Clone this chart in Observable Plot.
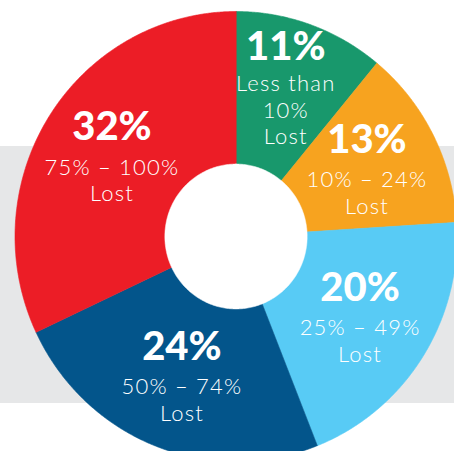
<!DOCTYPE html>
<html>
<head>
<meta charset="utf-8">
<script src="https://cdn.jsdelivr.net/npm/d3@7"></script>
<script src="https://cdn.jsdelivr.net/npm/@observablehq/plot@0.6"></script>
<style>
  html, body { margin: 0; padding: 0; background: #ffffff; }
  #chart {
    width: 454px; height: 451px; overflow: hidden;
    background: linear-gradient(to bottom, #ffffff 0px, #ffffff 146px, #e6e7e8 146px, #e6e7e8 403px, #ffffff 403px);
  }
  #chart svg { display: block; }
  #chart .small-label text { letter-spacing: 1.2px; }
</style>
</head>
<body>
<div id="chart"></div>
<script>
// ---- data ----
const categories = ["Less than 10% Lost", "10% – 24% Lost", "25% – 49% Lost", "50% – 74% Lost", "75% – 100% Lost"];
const labelLines = ["Less than\n10%\nLost", "10% – 24%\nLost", "25% – 49%\nLost", "50% – 74%\nLost", "75% – 100%\nLost"];
const values = [11, 13, 20, 24, 32];

// ---- style ----
const colors = ["#18986c", "#f7a31f", "#58cbf5", "#03558b", "#ec1d26"];
const innerRatio = 0.322;
const labelRatio = 0.665;

// ---- geometry derived from data (d3.pie: 0 at 12 o'clock, clockwise) ----
const arcs = d3.pie().sort(null).value(d => d)(values);
const slicePts = [];
arcs.forEach((a, i) => {
  const n = Math.max(4, Math.ceil((a.endAngle - a.startAngle) / 0.005));
  slicePts.push({cat: categories[i], x: 0, y: 0});
  for (let k = 0; k <= n; k++) {
    const t = a.startAngle + (a.endAngle - a.startAngle) * k / n;
    slicePts.push({cat: categories[i], x: Math.sin(t), y: Math.cos(t)});
  }
});
const holePts = d3.range(0, 361).map(k => {
  const t = k / 360 * 2 * Math.PI;
  return {x: innerRatio * Math.sin(t), y: innerRatio * Math.cos(t)};
});
const labelData = arcs.map((a, i) => {
  const m = (a.startAngle + a.endAngle) / 2;
  return {
    cat: categories[i],
    big: values[i] + "%",
    small: labelLines[i],
    lines: labelLines[i].split("\n").length,
    x: labelRatio * Math.sin(m),
    y: labelRatio * Math.cos(m)
  };
});
const two = labelData.filter(d => d.lines === 2);
const three = labelData.filter(d => d.lines === 3);

const bigStyle = {x: "x", y: "y", text: "big", fill: "white", fontSize: 40, fontWeight: 900,
  fontFamily: "Lato, 'Open Sans', sans-serif", lineAnchor: "bottom"};
const smallStyle = {x: "x", y: "y", text: "small", fill: "white", fontSize: 22, fontWeight: 300,
  fontFamily: "Lato, 'Open Sans', sans-serif", lineAnchor: "top", lineHeight: 1.2, className: "small-label"};

const chart = Plot.plot({
  width: 454,
  height: 451,
  margin: 0,
  x: {domain: [-1, 1], range: [14.5, 456.5], axis: null},
  y: {domain: [-1, 1], range: [461, 11], axis: null},
  color: {domain: categories, range: colors},
  style: {background: "transparent"},
  marks: [
    Plot.line(slicePts, {x: "x", y: "y", z: "cat", fill: "cat", stroke: "cat", strokeWidth: 0.6, curve: "linear-closed"}),
    Plot.line(holePts, {x: "x", y: "y", fill: "white", stroke: "white", strokeWidth: 0.5, curve: "linear-closed"}),
    Plot.text(two, {...bigStyle, dy: -16}),
    Plot.text(three, {...bigStyle, dy: -36}),
    Plot.text(two, {...smallStyle, dy: 0}),
    Plot.text(three, {...smallStyle, dy: -23})
  ]
});
document.getElementById("chart").appendChild(chart);
</script>
</body>
</html>
